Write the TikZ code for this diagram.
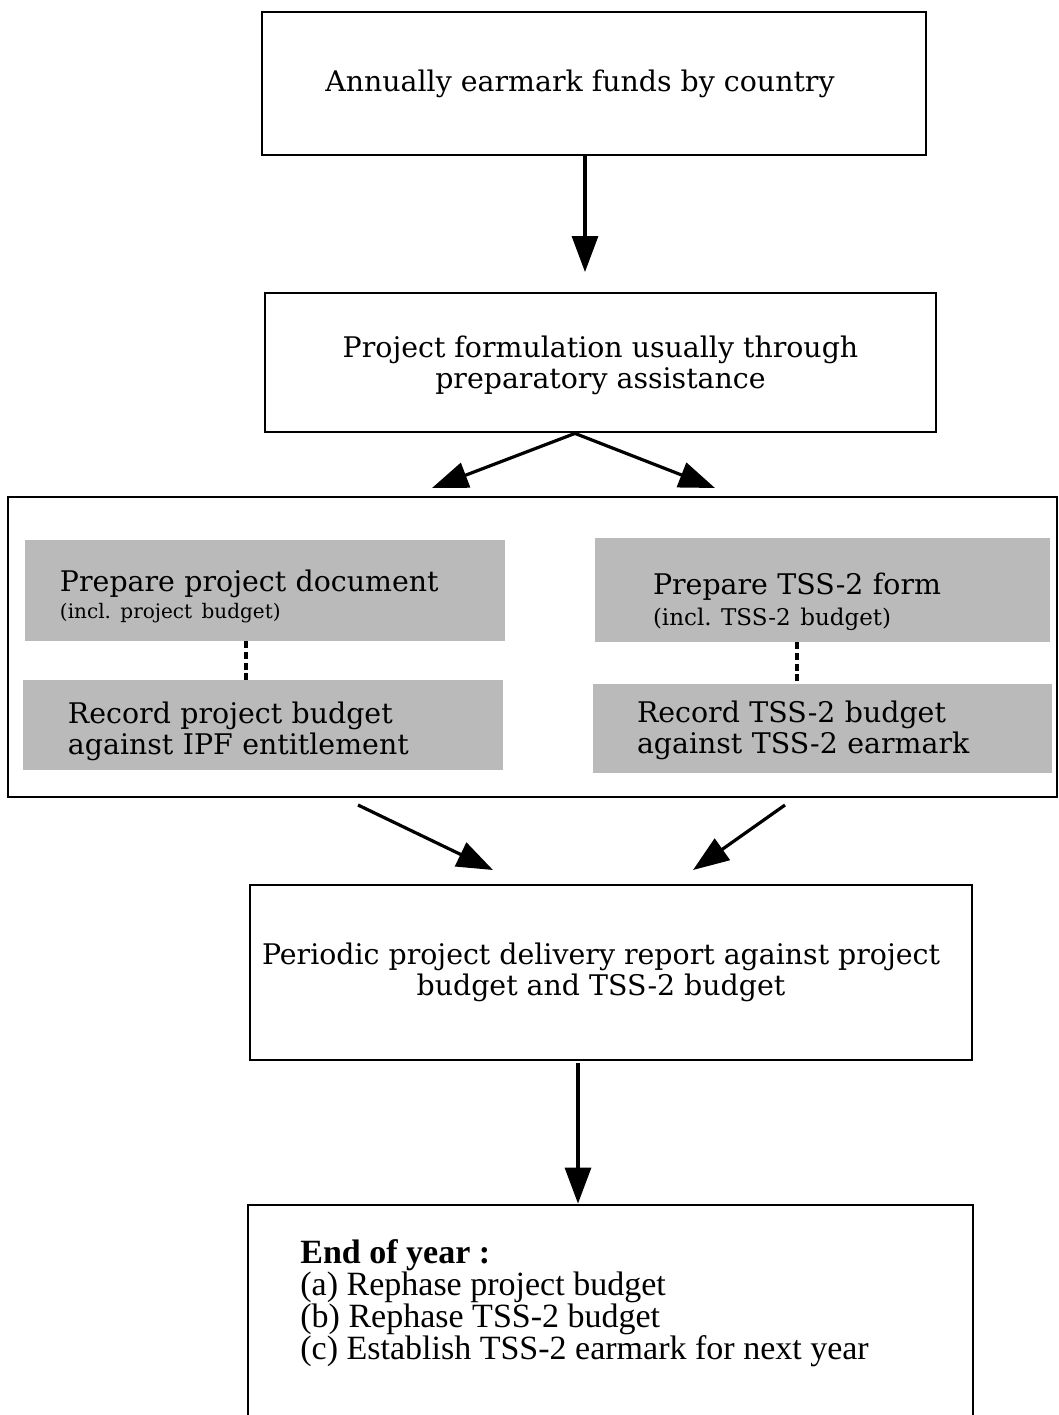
\documentclass[tikz,border=0pt]{standalone}
\usepackage{fontspec}
\setmainfont{DejaVu Serif}
\newfontfamily\listfont{Liberation Serif}
\usetikzlibrary{arrows.meta}
\frenchspacing
\newcommand{\topgap}[1]{\rule{0pt}{#1}}

\tikzset{
  flowbox/.style={draw, line width=1.4pt, align=center, inner sep=0pt},
  shadebox/.style={fill=black!27, align=left, inner ysep=0pt},
  flowarrow/.style={line width=1.6pt, -{Triangle[length=18pt,width=13pt]}},
  dotlink/.style={line width=1.7pt, dash pattern=on 3.5pt off 1.8pt},
}

\begin{document}
\begin{tikzpicture}[x=0.5pt, y=-0.5pt, font=\fontsize{14.2}{15.5}\selectfont]
			%%%%% START %%%%%
			\useasboundingbox (0,0) rectangle (1059,1415);
			
			\node[flowbox, minimum width=332pt, minimum height=71.5pt] (earmark) at (594,83.5) {Annually earmark funds by country\hspace*{14pt}};
			\coordinate (a1e) at (585,272);
			\draw[flowarrow] ([xshift=-4.5pt]earmark.south) -- (a1e);
			
			\node[flowbox, minimum width=335.5pt, minimum height=69.5pt] (formulation) at (600.5,362.5) {\topgap{14pt}Project formulation usually through\\preparatory assistance};
			\coordinate (la) at (432,488);
			\coordinate (ra) at (715,488);
			\draw[flowarrow] ([xshift=-12.75pt]formulation.south) -- (la);
			\draw[flowarrow] ([xshift=-12.75pt]formulation.south) -- (ra);
			
			\node[flowbox, minimum width=524.5pt, minimum height=150pt] (budgets) at (532.5,647) {};
			
			\node[shadebox, text width=205pt, inner xsep=17.5pt, minimum height=50.5pt] (prepdoc) at (265,590.5) {\topgap{17pt}Prepare project document\\[-2pt]{\fontsize{10}{11}\selectfont(incl. project budget)}};
			\node[shadebox, text width=195pt, inner xsep=22.5pt, minimum height=45pt] (recdoc) at (263,725) {\topgap{17pt}Record project budget\\against IPF entitlement};
			\draw[dotlink] ([xshift=-9.5pt]prepdoc.south) -- ([xshift=-8.5pt]recdoc.north);
			
			\node[shadebox, text width=169.5pt, inner xsep=29pt, minimum height=52pt] (prepform) at (822.5,590) {\topgap{23pt}Prepare TSS-2 form\\{\fontsize{11.5}{13}\selectfont(incl. TSS-2 budget)}};
			\node[shadebox, text width=185.5pt, inner xsep=22pt, minimum height=44.5pt] (recform) at (822.5,728.5) {\topgap{13pt}Record TSS-2 budget\\against TSS-2 earmark};
			\draw[dotlink] ([xshift=-12.75pt]prepform.south) -- ([xshift=-12.75pt]recform.north);
			
			\coordinate (lb) at (358,805);
			\coordinate (lc) at (493,870);
			\coordinate (rb) at (785,805);
			\coordinate (rc) at (693,870);
			\draw[flowarrow] (lb) -- (lc);
			\draw[flowarrow] (rb) -- (rc);
			
			\node[flowbox, minimum width=361pt, minimum height=87.5pt] (periodic) at (611,972.5) {Periodic project delivery report against project\hspace*{10pt}\\budget and TSS-2 budget\hspace*{10pt}};
			
			\node[flowbox, minimum width=362.5pt, minimum height=112.5pt] (yearend) at (610.5,1317.5) {};
			\node[anchor=north west, align=left, inner sep=0pt, font={\listfont\fontsize{17}{16}\selectfont}] (yearlist) at (300,1239) {\textbf{End of year :}\\(a) Rephase project budget\\(b) Rephase TSS-2 budget\\(c) Establish TSS-2 earmark for next year};
			
			\coordinate (d1) at (578,1063);
			\draw[flowarrow] (d1) -- (d1 |- yearend.north);
			
			%%%%% END %%%%%
		\end{tikzpicture}
\end{document}
